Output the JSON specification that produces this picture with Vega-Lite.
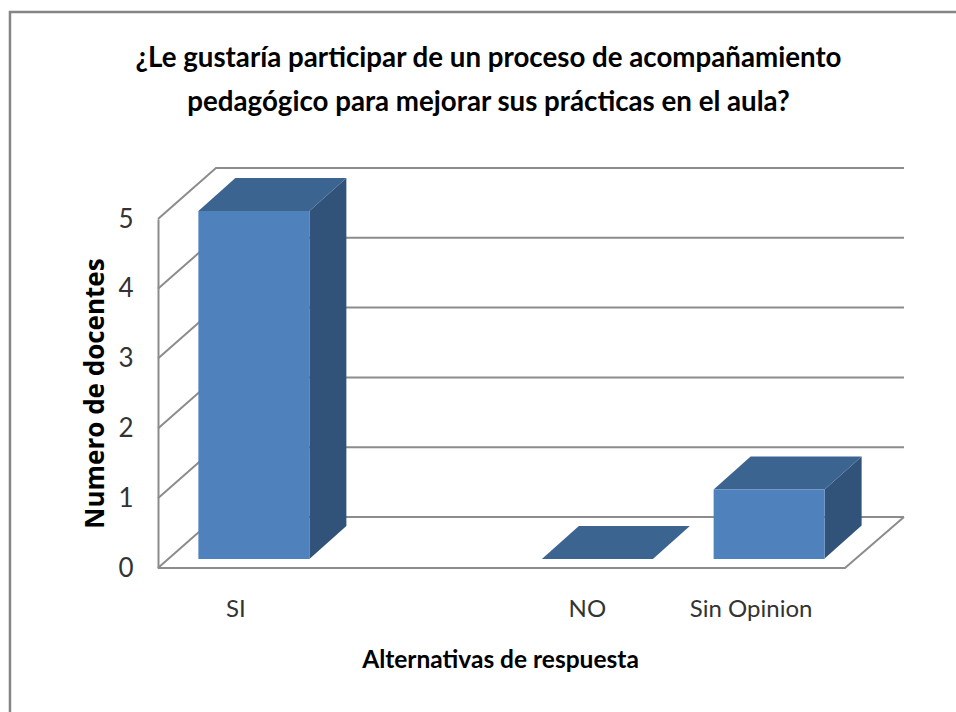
{
  "$schema": "https://vega.github.io/schema/vega-lite/v6.json",
  "width": 687,
  "height": 349,
  "autosize": {"type": "none"},
  "padding": {"left": 158, "top": 219, "right": 111, "bottom": 144},
  "background": "white",
  "config": {"view": {"stroke": null}},
  "title": {
    "text": ["¿Le gustaría participar de un proceso de acompañamiento", "pedagógico para mejorar sus prácticas en el aula?"],
    "font": "Lato",
    "fontWeight": "bold",
    "fontSize": 27.7,
    "lineHeight": 44.5,
    "color": "#000000",
    "anchor": "middle",
    "frame": "group",
    "dx": -13,
    "offset": -110
  },
  "data": {"values": [
    {"alternativa": "SI", "docentes": 5},
    {"alternativa": "NO", "docentes": 0},
    {"alternativa": "Sin Opinion", "docentes": 1}
  ]},
  "resolve": {"scale": {"y": "independent"}},
  "layer": [
    {
      "data": {"values": [{"nivel": 0}, {"nivel": 1}, {"nivel": 2}, {"nivel": 3}, {"nivel": 4}, {"nivel": 5}]},
      "mark": {"type": "point", "shape": "M0,0 L58,-51 L746,-51", "filled": false, "size": 4, "stroke": "#8C8C8C", "strokeWidth": 2, "opacity": 1, "xOffset": -85.9, "clip": false},
      "encoding": {
        "x": {
          "datum": "SI",
          "type": "nominal",
          "scale": {"domain": ["SI", "", "NO", "Sin Opinion"], "paddingInner": 0, "paddingOuter": 0},
          "axis": {
            "values": ["SI", "NO", "Sin Opinion"],
            "title": "Alternativas de respuesta",
            "titleFont": "Lato",
            "titleFontWeight": "bold",
            "titleFontSize": 24.5,
            "titleColor": "#000000",
            "titleX": 342,
            "titleY": 99,
            "titleAlign": "center",
            "titleBaseline": "alphabetic",
            "labelFont": "Lato",
            "labelFontSize": 24,
            "labelColor": "#333333",
            "labelAngle": 0,
            "labelPadding": 41,
            "labelBaseline": "middle",
            "labelOffset": {"condition": {"test": "datum.value === 'NO'", "value": 0}, "value": -8},
            "domain": false,
            "ticks": false,
            "grid": false
          }
        },
        "y": {
          "field": "nivel",
          "type": "quantitative",
          "scale": {"domain": [0, 5], "nice": false, "zero": false},
          "axis": {
            "values": [0, 1, 2, 3, 4, 5],
            "title": "Numero de docentes",
            "titleFont": "Open Sans",
            "titleFontWeight": "bold",
            "titleFontSize": 26,
            "titleColor": "#000000",
            "titleX": -63,
            "titleY": 174,
            "titleAlign": "center",
            "titleBaseline": "middle",
            "titleAngle": 270,
            "labelFont": "Lato",
            "labelFontSize": 26,
            "labelColor": "#333333",
            "labelPadding": 25,
            "domain": true,
            "domainColor": "#8C8C8C",
            "domainWidth": 2,
            "ticks": false,
            "grid": false
          }
        }
      }
    },
    {
      "data": {"values": [{"nivel": 0}]},
      "mark": {"type": "point", "shape": "M0,0 L687,0 L746,-51", "filled": false, "size": 4, "stroke": "#8C8C8C", "strokeWidth": 2, "opacity": 1, "xOffset": -85.9, "clip": false},
      "encoding": {
        "x": {"datum": "SI", "type": "nominal"},
        "y": {"field": "nivel", "type": "quantitative", "scale": {"domain": [0, 5], "nice": false, "zero": false}, "axis": null}
      }
    },
    {
      "data": {"values": [{"nivel": 0}]},
      "mark": {"type": "point", "shape": "M-148,144 L-148,-556 L798,-556", "filled": false, "size": 4, "stroke": "#858585", "strokeWidth": 2.5, "opacity": 1, "xOffset": -85.9, "clip": false},
      "encoding": {
        "x": {"datum": "SI", "type": "nominal"},
        "y": {"field": "nivel", "type": "quantitative", "scale": {"domain": [0, 5], "nice": false, "zero": false}, "axis": null}
      }
    },
    {
      "mark": {"type": "point", "filled": true, "size": 4, "opacity": 1, "strokeWidth": 0, "color": "#325379", "xOffset": 10, "clip": false},
      "transform": [{"filter": "datum.docentes > 0"}],
      "encoding": {
        "x": {"field": "alternativa", "type": "nominal"},
        "y": {"field": "docentes", "type": "quantitative", "scale": {"domain": [-0.1293, 4.885], "nice": false, "zero": false}, "axis": null},
        "shape": {
          "field": "alternativa",
          "type": "nominal",
          "legend": null,
          "scale": {"domain": ["SI", "Sin Opinion"], "range": ["M55.5,0 L92.5,-33 L92.5,315 L55.5,348 Z", "M55.5,0 L92.5,-33 L92.5,36 L55.5,69 Z"]}
        }
      }
    },
    {
      "mark": {"type": "point", "shape": "M-55.5,0 L55.5,0 L92.5,-33 L-18.5,-33 Z", "filled": true, "size": 4, "opacity": 1, "strokeWidth": 0, "color": "#3C6491", "xOffset": 10, "clip": false},
      "encoding": {
        "x": {"field": "alternativa", "type": "nominal"},
        "y": {"field": "docentes", "type": "quantitative", "scale": {"domain": [-0.1293, 4.885], "nice": false, "zero": false}, "axis": null}
      }
    },
    {
      "mark": {"type": "bar", "color": "#4F81BD", "width": 111, "xOffset": 10, "clip": false},
      "transform": [{"filter": "datum.docentes > 0"}],
      "encoding": {
        "x": {"field": "alternativa", "type": "nominal"},
        "y": {"field": "docentes", "type": "quantitative", "scale": {"domain": [-0.1293, 4.885], "nice": false, "zero": false}, "axis": null}
      }
    }
  ]
}
